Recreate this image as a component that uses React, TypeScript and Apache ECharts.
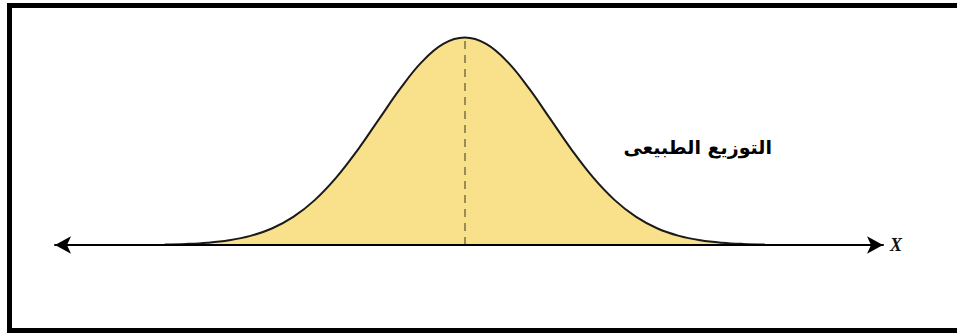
import React, { useEffect, useRef } from "react";
import * as echarts from "echarts";

// z-values (in standard deviations) and density
const zValues = [-3.5, -3.25, -3, -2.75, -2.5, -2.25, -2, -1.75, -1.5, -1.25, -1, -0.75, -0.5, -0.25, 0, 0.25, 0.5, 0.75, 1, 1.25, 1.5, 1.75, 2, 2.25, 2.5, 2.75, 3, 3.25, 3.5];
const density = [0.0009, 0.002, 0.0044, 0.0091, 0.0175, 0.0317, 0.054, 0.0863, 0.1295, 0.1826, 0.242, 0.3011, 0.3521, 0.3867, 0.3989, 0.3867, 0.3521, 0.3011, 0.242, 0.1826, 0.1295, 0.0863, 0.054, 0.0317, 0.0175, 0.0091, 0.0044, 0.002, 0.0009];
const meanValue = 0;
const peakValue = 0.3989;
const axisName = "X";
const curveLabel = "التوزيع الطبيعى";

export default function App() {
  const ref = useRef<HTMLDivElement>(null);
  useEffect(() => {
    if (!ref.current) return;
    const chart = echarts.init(ref.current, null, { renderer: "svg" });
    const data = zValues.map((z, i) => [z, density[i]]);
    chart.setOption({
      animation: false,
      backgroundColor: "#ffffff",
      grid: { left: 55, right: 74, top: 37, bottom: 91 },
      xAxis: {
        type: "value",
        min: -4.78,
        max: 4.88,
        z: 5,
        splitLine: { show: false },
        axisTick: { show: false },
        axisLabel: { show: false },
        axisLine: {
          onZero: true,
          symbol: ["arrow", "arrow"],
          symbolSize: [13, 16],
          lineStyle: { color: "#000", width: 2 },
        },
        name: axisName,
        nameLocation: "end",
        nameGap: 7,
        nameTextStyle: {
          fontFamily: "Liberation Serif",
          fontStyle: "italic",
          fontWeight: "bold",
          fontSize: 18,
          color: "#111",
          verticalAlign: "middle",
        },
      },
      yAxis: {
        type: "value",
        min: 0,
        max: 0.4,
        show: false,
      },
      series: [
        {
          type: "line",
          data,
          smooth: 0.4,
          showSymbol: false,
          symbol: "none",
          lineStyle: { color: "#1a1a1a", width: 2 },
          areaStyle: { color: "#F9E08A", opacity: 1 },
          markLine: {
            silent: true,
            symbol: "none",
            label: { show: false },
            lineStyle: { color: "#9a8c55", width: 2, type: [8, 6] },
            data: [[{ coord: [meanValue, 0] }, { coord: [meanValue, peakValue] }]],
          },
        },
      ],
      graphic: [
        {
          type: "rect",
          shape: { x: 9.5, y: 5.5, width: 960, height: 325 },
          style: { fill: "none", stroke: "#000", lineWidth: 5 },
          silent: true,
        },
        {
          type: "text",
          x: 772,
          y: 147,
          style: {
            text: curveLabel,
            align: "right",
            verticalAlign: "middle",
            fontFamily: "DejaVu Sans, Noto Sans, sans-serif",
            fontWeight: "bold",
            fontSize: 19,
            fill: "#000",
          },
        },
      ],
    });
    return () => chart.dispose();
  }, []);
  return (
    <div
      ref={ref}
      style={{ position: "fixed", left: 0, top: 0, width: 957, height: 336 }}
    />
  );
}
